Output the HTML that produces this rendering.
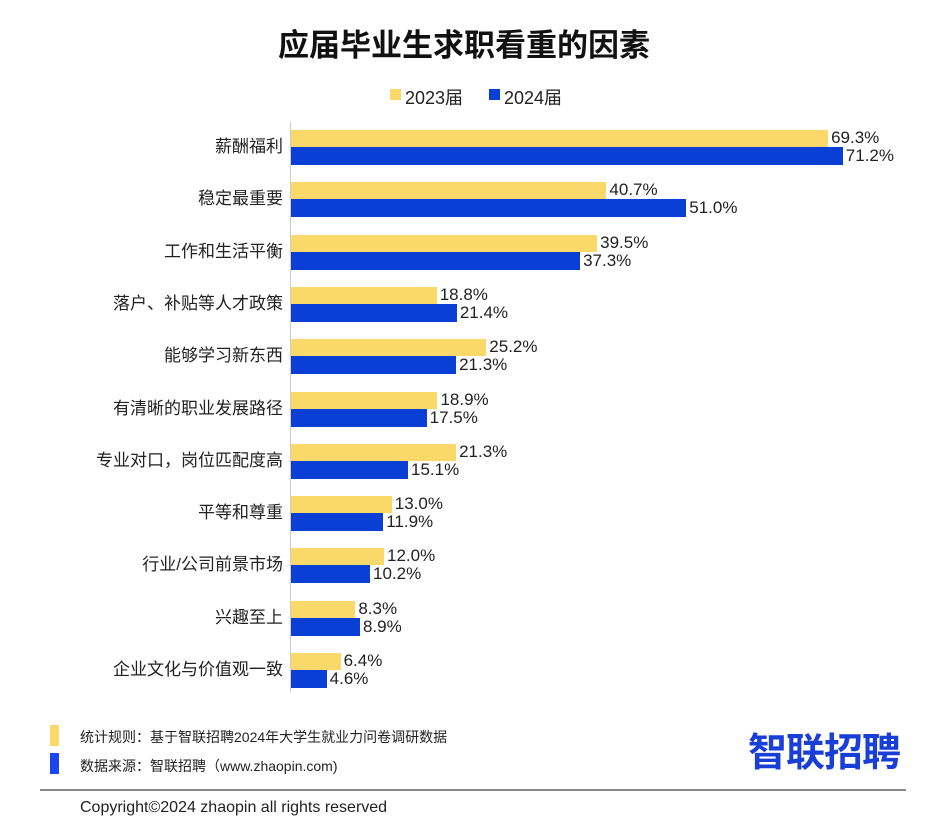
<!DOCTYPE html>
<html><head><meta charset="utf-8"><style>
body{margin:0;width:928px;height:822px;background:#fff;position:relative;overflow:hidden;font-family:"Liberation Sans","Noto Sans CJK SC",sans-serif;color:#222}
.a{position:absolute;white-space:nowrap}
.lbl{position:absolute;right:645px;font-size:17px;line-height:20px}
.v{position:absolute;font-size:17px;line-height:18px}
.y{position:absolute;left:291px;height:17px;background:#fad96a}
.b{position:absolute;left:291px;height:18px;background:#0a3fd6}
</style></head><body>
<div class="a" style="left:0;width:928px;text-align:center;top:20px;font-size:31px;font-weight:bold;color:#111">应届毕业生求职看重的因素</div>
<div class="a" style="left:390px;top:89px;width:11px;height:11px;background:#fad96a"></div>
<div class="a" style="left:405px;top:84px;font-size:18px">2023届</div>
<div class="a" style="left:489px;top:89px;width:11px;height:11px;background:#0a3fd6"></div>
<div class="a" style="left:504px;top:84px;font-size:18px">2024届</div>
<div class="a" style="left:290px;top:122px;width:1px;height:570px;background:#ccc"></div>
<div id="rows"></div>
<script>
var d=[["薪酬福利",69.3,71.2],["稳定最重要",40.7,51.0],["工作和生活平衡",39.5,37.3],["落户、补贴等人才政策",18.8,21.4],["能够学习新东西",25.2,21.3],["有清晰的职业发展路径",18.9,17.5],["专业对口，岗位匹配度高",21.3,15.1],["平等和尊重",13.0,11.9],["行业/公司前景市场",12.0,10.2],["兴趣至上",8.3,8.9],["企业文化与价值观一致",6.4,4.6]];
var h="";d.forEach(function(r,i){var t=130+i*52.3,k=7.75;
h+='<div class="lbl" style="top:'+(t+7)+'px">'+r[0]+'</div>';
h+='<div class="y" style="top:'+t+'px;width:'+(r[1]*k)+'px"></div>';
h+='<div class="b" style="top:'+(t+17)+'px;width:'+(r[2]*k)+'px"></div>';
h+='<div class="v" style="top:'+(t-1)+'px;left:'+(294+r[1]*k)+'px">'+r[1].toFixed(1)+'%</div>';
h+='<div class="v" style="top:'+(t+17)+'px;left:'+(294+r[2]*k)+'px">'+r[2].toFixed(1)+'%</div>';});
document.getElementById("rows").innerHTML=h;
</script>
<div class="a" style="left:50px;top:725px;width:9px;height:21px;background:#fad96a"></div>
<div class="a" style="left:80px;top:727px;font-size:14px">统计规则：基于智联招聘2024年大学生就业力问卷调研数据</div>
<div class="a" style="left:50px;top:753px;width:9px;height:21px;background:#1a45f0"></div>
<div class="a" style="left:80px;top:756px;font-size:14px">数据来源：智联招聘（www.zhaopin.com)</div>
<div class="a" style="left:748px;top:722px;font-size:39px;font-weight:bold;color:#1a3fd8;letter-spacing:-1px">智联招聘</div>
<div class="a" style="left:40px;top:789px;width:866px;height:2px;background:#888"></div>
<div class="a" style="left:80px;top:799px;font-size:16px">Copyright©2024 zhaopin all rights reserved</div>
</body></html>
